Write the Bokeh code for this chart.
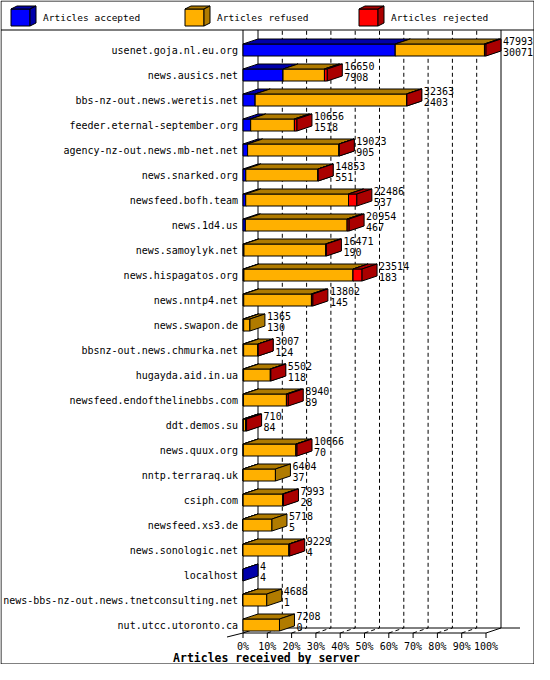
from bokeh.plotting import figure
from bokeh.models import Range1d, ColumnDataSource
from bokeh.embed import file_html
from bokeh.resources import INLINE
from bokeh.core.properties import value

# ---------------- data ----------------
servers = [
    "usenet.goja.nl.eu.org", "news.ausics.net", "bbs-nz-out.news.weretis.net",
    "feeder.eternal-september.org", "agency-nz-out.news.mb-net.net", "news.snarked.org",
    "newsfeed.bofh.team", "news.1d4.us", "news.samoylyk.net", "news.hispagatos.org",
    "news.nntp4.net", "news.swapon.de", "bbsnz-out.news.chmurka.net", "hugayda.aid.in.ua",
    "newsfeed.endofthelinebbs.com", "ddt.demos.su", "news.quux.org", "nntp.terraraq.uk",
    "csiph.com", "newsfeed.xs3.de", "news.sonologic.net", "localhost",
    "news-bbs-nz-out.news.tnetconsulting.net", "nut.utcc.utoronto.ca",
]
offered = [47993, 16650, 32363, 10656, 19023, 14853, 22486, 20954, 16471, 23514, 13802, 1365,
           3007, 5502, 8940, 710, 10666, 6404, 7993, 5718, 9229, 4, 4688, 7208]
accepted = [30071, 7908, 2403, 1518, 905, 551, 537, 467, 190, 183, 145, 130,
            124, 118, 89, 84, 70, 37, 28, 5, 4, 4, 1, 0]
refused = [17622, 8180, 29900, 8640, 18050, 14250, 20300, 20112, 16131, 21550, 13377, 1235,
           2833, 5284, 8491, 440, 10390, 6367, 7805, 5713, 9075, 0, 4687, 7208]
rejected = [300, 562, 60, 498, 68, 52, 1649, 375, 150, 1781, 280, 0,
            50, 100, 360, 186, 206, 0, 160, 0, 150, 0, 0, 0]
series_names = ["Articles accepted", "Articles refused", "Articles rejected"]
pct_ticks = [0, 10, 20, 30, 40, 50, 60, 70, 80, 90, 100]
tick_labels = ["0%", "10%", "20%", "30%", "40%", "50%", "60%", "70%", "80%", "90%", "100%"]
x_title = "Articles received by server"

# ---------------- style / geometry ----------------
FRONT = ["#0000ff", "#ffb000", "#ff0000"]
DARK = ["#0000aa", "#b07b00", "#aa0000"]
MONO = "DejaVu Sans Mono"
W, H = 534, 664
X0_PX = 242.5          # canvas x of 0 %
PX_PER_PCT = 2.43
ROW_PX = 25.0
ROW0_PX = 49.5         # canvas y of first row centre
n = len(servers)

XSTART = -X0_PX / PX_PER_PCT
XEND = XSTART + W / PX_PER_PCT
YEND = (n - 1) + ROW0_PX / ROW_PX
YSTART = YEND - H / ROW_PX


def cx(px):   # canvas px -> data x (layout helper only)
    return XSTART + px / PX_PER_PCT


def cy(py):   # canvas px (from top) -> data y (layout helper only)
    return YEND - py / ROW_PX


DX = 15 / PX_PER_PCT
DY = 5 / ROW_PX
HALF = 6 / ROW_PX
FLOOR = -8 / ROW_PX
SEP_Y = cy(29.5)

max_total = max(offered)


def pct(v):
    return v / max_total * 100.0


p = figure(width=W, height=H, x_range=Range1d(XSTART, XEND), y_range=Range1d(YSTART, YEND),
           x_axis_type=None, y_axis_type=None, output_backend="svg", toolbar_location=None,
           min_border=0, outline_line_color=None, background_fill_color="white",
           border_fill_color="white")

# outer border and legend separator
p.multi_line(xs=[[cx(0.5), cx(533.5), cx(533.5), cx(0.5), cx(0.5)], [cx(0.5), cx(533.5)]],
             ys=[[cy(0.5), cy(0.5), cy(663.5), cy(663.5), cy(0.5)], [SEP_Y, SEP_Y]],
             line_color="black", line_width=1)

# back wall / floor grid lines (3D: front tick -> back wall -> top)
inner = [t for t in pct_ticks if t not in (0, 100)]
outer = [t for t in pct_ticks if t in (0, 100)]
p.multi_line(xs=[[t, t + DX, t + DX] for t in inner], ys=[[FLOOR, FLOOR + DY, SEP_Y]] * len(inner),
             line_color="black", line_width=1, line_dash="4 3")
p.multi_line(xs=[[t, t + DX, t + DX] for t in outer], ys=[[FLOOR, FLOOR + DY, SEP_Y]] * len(outer),
             line_color="black", line_width=1)
# floor lines and value axis line
p.multi_line(xs=[[0, 100], [DX, 100 + 34 / PX_PER_PCT], [0, 0], [-16 / PX_PER_PCT, 0]],
             ys=[[FLOOR, FLOOR], [FLOOR + DY, FLOOR + DY], [FLOOR, SEP_Y], [FLOOR - 4 / ROW_PX, FLOOR]],
             line_color="black", line_width=1)
# ticks below floor
p.segment(x0=pct_ticks, y0=[FLOOR] * len(pct_ticks), x1=pct_ticks, y1=[FLOOR - 5 / ROW_PX] * len(pct_ticks),
          line_color="black", line_width=1)
p.text(x=pct_ticks, y=[FLOOR - 13 / ROW_PX] * len(pct_ticks), text=tick_labels, text_font=value(MONO),
       text_font_size="10px", text_color="black", text_align="center", text_baseline="middle")

# 3D stacked bars
xs, ys, cols = [], [], []
for i in range(n):
    yc = n - 1 - i
    b, t = yc - HALF, yc + HALF
    left = 0.0
    for vals, fc, dc in zip((accepted, refused, rejected), FRONT, DARK):
        v = vals[i]
        if v <= 0:
            continue
        right = left + pct(v)
        xs.append([left, right, right, left]); ys.append([b, b, t, t]); cols.append(fc)
        xs.append([left, right, right + DX, left + DX]); ys.append([t, t, t + DY, t + DY]); cols.append(dc)
        xs.append([right, right + DX, right + DX, right]); ys.append([b, b + DY, t + DY, t]); cols.append(dc)
        left = right
p.patches(xs="xs", ys="ys", fill_color="c", line_color="black", line_width=1,
          source=ColumnDataSource(dict(xs=xs, ys=ys, c=cols)))

# category labels
rows = [n - 1 - i for i in range(n)]
p.text(x=[0] * n, y=rows, text=servers, text_font=value(MONO), text_font_size="10px",
       text_color="black", text_align="right", text_baseline="middle", x_offset=-5)

# value labels (offered above, accepted below)
lab = ColumnDataSource(dict(
    x=[pct(o) + DX for o in offered], y=rows,
    t1=[str(o) for o in offered], t2=[str(a) for a in accepted],
))
p.text(x="x", y="y", text="t1", source=lab, text_font=value(MONO), text_font_size="10px",
       text_color="black", text_align="left", text_baseline="middle", x_offset=2, y_offset=-9)
p.text(x="x", y="y", text="t2", source=lab, text_font=value(MONO), text_font_size="10px",
       text_color="black", text_align="left", text_baseline="middle", x_offset=2, y_offset=2)

# axis title
p.text(x=[cx(266)], y=[cy(657)], text=[x_title], text_font=value(MONO), text_font_size="11.5px",
       text_font_style="bold", text_color="black", text_align="center", text_baseline="middle")

# legend with 3D boxes
leg_x = [10.5, 184.5, 358.5]
cw, ch, cdx, cdy, ctop = 19, 17, 6, 3, 8.5
lxs, lys, lcs = [], [], []
for x0, fc, dc in zip(leg_x, FRONT, DARK):
    x1 = x0 + cw
    yb, yt = cy(ctop + ch), cy(ctop)
    xa, xb, xc, xd = cx(x0), cx(x1), cx(x0 + cdx), cx(x1 + cdx)
    yu = cy(ctop - cdy)
    ybu = cy(ctop + ch - cdy)
    lxs.append([xa, xb, xb, xa]); lys.append([yb, yb, yt, yt]); lcs.append(fc)
    lxs.append([xa, xb, xd, xc]); lys.append([yt, yt, yu, yu]); lcs.append(dc)
    lxs.append([xb, xd, xd, xb]); lys.append([yb, ybu, yu, yt]); lcs.append(dc)
p.patches(xs="xs", ys="ys", fill_color="c", line_color="black", line_width=1,
          source=ColumnDataSource(dict(xs=lxs, ys=lys, c=lcs)))
p.text(x=[cx(x + 32) for x in leg_x], y=[cy(ctop + ch / 2)] * 3, text=series_names,
       text_font=value(MONO), text_font_size="9.5px", text_color="black",
       text_baseline="middle", text_align="left")

with open("out.html", "w") as f:
    f.write(file_html(p, INLINE))
